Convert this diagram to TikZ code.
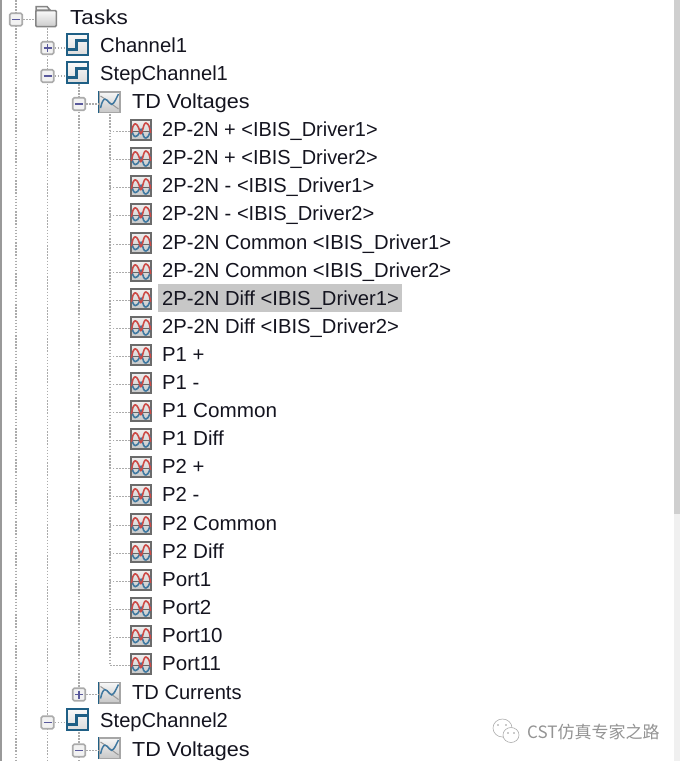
\documentclass[tikz,border=0pt]{standalone}
\usepackage{graphicx}
\usepackage{fontspec}
\setmainfont{Liberation Sans}
\newfontfamily\cjkfont{Noto Sans CJK SC}
\definecolor{txt}{HTML}{14141F}
\definecolor{tree}{HTML}{ABABAB}
\definecolor{iconedge}{HTML}{1F5F85}
\definecolor{wavered}{HTML}{CC4A46}
\definecolor{waveblue}{HTML}{3F78A0}
\tikzset{
  x=1pt,y=-1pt,
  lbl/.style={anchor=base west,inner sep=0pt,text=txt,font=\fontsize{20.3}{20}\selectfont},
  expbox/.style={draw=black!33,line width=1.6pt,rounded corners=1.5pt,fill=black!5,minimum size=12.5pt,inner sep=0pt},
  treeline/.style={draw=tree,line width=1.4pt,dash pattern=on 1.5pt off 1.6pt},
  wavebox/.style={draw=black!58,line width=1.6pt,top color=black!6,bottom color=black!22,minimum size=20.5pt,inner sep=0pt},
  chartbox/.style={draw=black!35,line width=1.5pt,top color=black!3,bottom color=black!22,minimum size=20.5pt,inner sep=0pt},
  chanbox/.style={draw=iconedge,line width=1.8pt,top color=black!2,bottom color=black!14,minimum size=21.5pt,inner sep=0pt},
  folderbox/.style={draw=black!48,line width=1.5pt,top color=black!2,bottom color=black!20,minimum width=20.5pt,minimum height=16pt,inner sep=0pt},
  markbar/.style={draw=blue!40!black!65,line width=1.6pt},
}
\newcommand{\expminus}[3]{\node[expbox] (#1) at (#2,#3) {};
  \draw[markbar] (#2-4,#3) -- (#2+4,#3);}
\newcommand{\expplus}[3]{\node[expbox] (#1) at (#2,#3) {};
  \draw[markbar] (#2-4,#3) -- (#2+4,#3) (#2,#3-4) -- (#2,#3+4);}
\newcommand{\chanicon}[3]{\node[chanbox] (#1) at (#2,#3) {};
  \draw[iconedge,line width=2.4pt] (#2-10,#3+5) -- (#2-1,#3+5) -- (#2-1,#3-4) -- (#2+10,#3-4);}
\newcommand{\charticon}[3]{\node[chartbox] (#1) at (#2,#3) {};
  \draw[iconedge,line width=1.5pt] (#1.south west) -- (#1.north west);
  \draw[black!40,line width=1pt] (#2-9,#3-6) .. controls (#2-4,#3-3) and (#2+2,#3+2) .. (#2+9,#3+7);
  \draw[waveblue,line width=1.5pt] (#2-9,#3+6) .. controls (#2-6,#3-7) and (#2-3,#3-3) .. (#2,#3+1) .. controls (#2+3,#3+5) and (#2+5,#3) .. (#2+9,#3-8);}
\newcommand{\waveicon}[3]{\node[wavebox] (#1) at (#2,#3) {};
  \draw[black!60,line width=1pt] (#2-10,#3+1) -- (#2+10,#3+1);
  \draw[waveblue,line width=1.6pt] (#2-9.5,#3-2) .. controls (#2-8,#3+9) and (#2-4,#3+9) .. (#2-1,#3+1) .. controls (#2+1,#3-6) and (#2+1,#3+9) .. (#2+5,#3+8) .. controls (#2+8,#3+7) and (#2+9,#3+3) .. (#2+9.5,#3-3);
  \draw[wavered,line width=1.6pt] (#2-9.5,#3+3) .. controls (#2-8,#3-9) and (#2-4,#3-9) .. (#2-1,#3+2) .. controls (#2+1,#3+9) and (#2+2,#3-8) .. (#2+5,#3-7) .. controls (#2+8,#3-6) and (#2+9,#3-2) .. (#2+9.5,#3+3);}
\begin{document}
\begin{tikzpicture}
\useasboundingbox (0,0) rectangle (680,761);
\fill[white] (0,0) rectangle (680,761);
% window edges and scrollbar
\fill[black!40] (0,0) rectangle (2,761);
\fill[black!19] (674,0) rectangle (680,514);
\fill[black!6] (674,514) rectangle (680,761);
% free ends
\coordinate (top0) at (16,0);
\coordinate (end0) at (16,761);
\coordinate (end1) at (47.5,761);
\coordinate (end2) at (79,761);
\coordinate (leaftop) at (110,114);
% selected row
\fill[black!22] (158,284) rectangle (402,312);
% tree connectors under the icons
\draw[treeline] (top0) -- (16,14);
\draw[treeline] (16,25) -- (end0);
\draw[treeline] (47.5,28) -- (end1);
\draw[treeline] (79,84) -- (79,693);
\draw[treeline] (79,732) -- (end2);
\draw[treeline] (leaftop) |- (130,665.5);
% rows
\expminus{e0}{16}{19.5}
\node[folderbox,rounded corners=1pt] (tasksicon) at (46,18.5) {};
\draw[black!48,line width=1.5pt,fill=black!4] (36,10) -- (36,6.5) -- (47,6.5) -- (50,10) -- cycle;
\node[lbl] (tasks) at (70,24) {\scalebox{1.11}[1]{Tasks}};
\expplus{e1}{47.5}{48}
\chanicon{c1}{77.5}{44.5}
\node[lbl] (ch1) at (100,52.7) {Channel1};
\expminus{e2}{47.5}{76}
\chanicon{c2}{77.5}{72.5}
\node[lbl] (sc1) at (100,80.7) {\scalebox{0.993}[1]{StepChannel1}};
\expminus{e3}{79}{104}
\charticon{g1}{109.5}{102}
\node[lbl] (tv1) at (132,108.7) {\scalebox{1.063}[1]{TD Voltages}};
\foreach \n/\y/\f/\t in {
 1/130/0.982/{2P-2N + <IBIS\_Driver1>},
 2/158/0.982/{2P-2N + <IBIS\_Driver2>},
 3/186/0.99/{2P-2N - <IBIS\_Driver1>},
 4/214/0.99/{2P-2N - <IBIS\_Driver2>},
 5/243/0.997/{2P-2N Common <IBIS\_Driver1>},
 6/271/0.997/{2P-2N Common <IBIS\_Driver2>},
 7/299/0.996/{2P-2N Diff <IBIS\_Driver1>},
 8/327/0.996/{2P-2N Diff <IBIS\_Driver2>},
 9/355/1/{P1 +},
 10/383/1/{P1 -},
 11/411/1.018/{P1 Common},
 12/439/1.017/{P1 Diff},
 13/467/1/{P2 +},
 14/495/1/{P2 -},
 15/524/1.018/{P2 Common},
 16/552/1.017/{P2 Diff},
 17/580/1.01/{Port1},
 18/608/1.01/{Port2},
 19/636/1.01/{Port10},
 20/664/1.01/{Port11}}{
  \waveicon{w\n}{141}{\y}
  \node[lbl] (t\n) at (162,\y+6.8) {\scalebox{\f}[1]{\t}};
  \draw[treeline] ([yshift=-1.5pt]w\n.west) -- ([yshift=-1.5pt]w\n.west-|leaftop);
}
\expplus{e4}{79}{694.5}
\charticon{g2}{109.5}{692.5}
\node[lbl] (tc1) at (132,699.5) {\scalebox{0.99}[1]{TD Currents}};
\expminus{e5}{47.5}{722.5}
\chanicon{c3}{77.5}{719.5}
\node[lbl] (sc2) at (100,727.8) {\scalebox{0.993}[1]{StepChannel2}};
\expminus{e6}{79}{750.5}
\charticon{g3}{109.5}{748}
\node[lbl] (tv2) at (132,756) {\scalebox{1.063}[1]{TD Voltages}};
% horizontal tree connectors
\draw[treeline] (e0.east) -- (e0.east-|tasksicon.west);
\draw[treeline] (e1.east) -- (e1.east-|c1.west);
\draw[treeline] (e2.east) -- (e2.east-|c2.west);
\draw[treeline] (e5.east) -- (e5.east-|c3.west);
\draw[treeline] (e3.east) -- (e3.east-|g1.west);
\draw[treeline] (e4.east) -- (e4.east-|g2.west);
\draw[treeline] (e6.east) -- (e6.east-|g3.west);
% watermark
\draw[black!32,line width=0.6pt,fill=white] (502.5,728) ellipse [x radius=9.5,y radius=9];
\draw[black!32,line width=0.6pt,fill=white] (511,735) ellipse [x radius=8,y radius=7.5];
\fill[black!40] (498,725) circle (0.9) (506,725) circle (0.9) (508,733) circle (0.8) (514,733) circle (0.8);
\node[anchor=west,inner sep=0pt,text=black!42,font=\cjkfont\fontsize{17}{17}\selectfont] (wm) at (527,731.5) {CST仿真专家之路};
\end{tikzpicture}
\end{document}
